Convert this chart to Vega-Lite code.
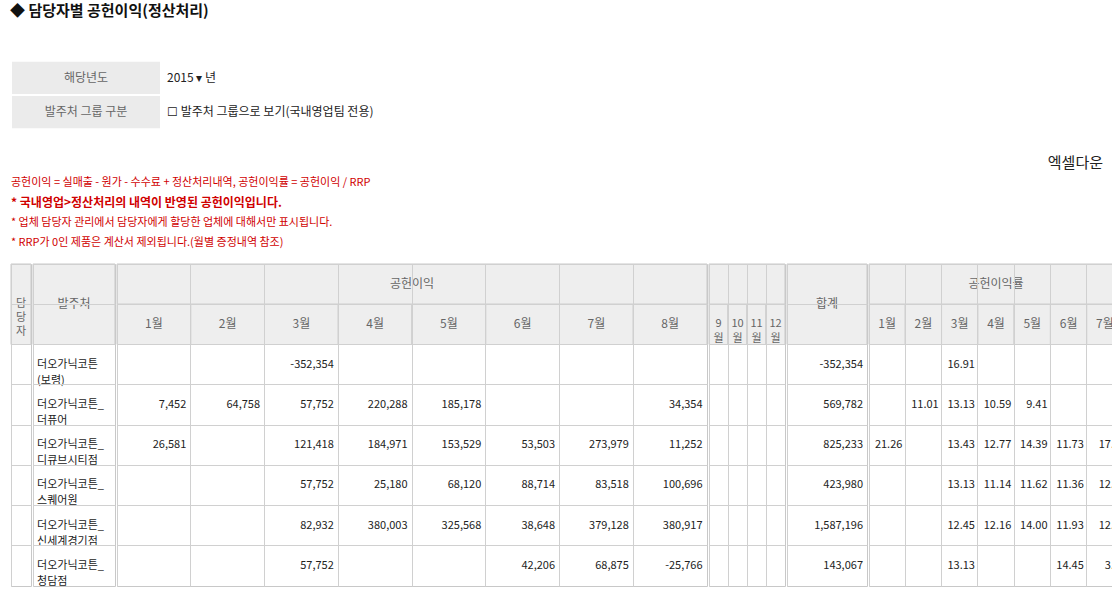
{
"$schema":"https://vega.github.io/schema/vega-lite/v6.json",
"padding":{"left":10,"top":4,"right":0,"bottom":0},
"background":"#ffffff",
"title":{"text":"◆ 담당자별 공헌이익(정산처리)","anchor":"start","fontSize":15,"fontWeight":"bold","color":"#111","offset":28},
"config":{"font":"Noto Sans CJK KR","view":{"stroke":"#c8c8c8"},"axis":{"grid":true,"labels":false,"ticks":false,"domain":false,"gridColor":"#d0d0d0","bandPosition":0}},
"datasets":{
"hrect":[
{"g":"A","c1":"담","c2":"담","r1":"h1","r2":"h2"},
{"g":"B","c1":"발","c2":"발","r1":"h1","r2":"h2"},
{"g":"C","c1":"M1","c2":"M8","r1":"h1","r2":"h1"},
{"g":"C","c1":"M1","c2":"M1","r1":"h2","r2":"h2"},{"g":"C","c1":"M2","c2":"M2","r1":"h2","r2":"h2"},{"g":"C","c1":"M3","c2":"M3","r1":"h2","r2":"h2"},{"g":"C","c1":"M4","c2":"M4","r1":"h2","r2":"h2"},{"g":"C","c1":"M5","c2":"M5","r1":"h2","r2":"h2"},{"g":"C","c1":"M6","c2":"M6","r1":"h2","r2":"h2"},{"g":"C","c1":"M7","c2":"M7","r1":"h2","r2":"h2"},{"g":"C","c1":"M8","c2":"M8","r1":"h2","r2":"h2"},
{"g":"D","c1":"M9","c2":"M12","r1":"h1","r2":"h1"},
{"g":"D","c1":"M9","c2":"M9","r1":"h2","r2":"h2"},{"g":"D","c1":"M10","c2":"M10","r1":"h2","r2":"h2"},{"g":"D","c1":"M11","c2":"M11","r1":"h2","r2":"h2"},{"g":"D","c1":"M12","c2":"M12","r1":"h2","r2":"h2"},
{"g":"E","c1":"H","c2":"H","r1":"h1","r2":"h2"},
{"g":"F","c1":"R1","c2":"R7","r1":"h1","r2":"h1"},
{"g":"F","c1":"R1","c2":"R1","r1":"h2","r2":"h2"},{"g":"F","c1":"R2","c2":"R2","r1":"h2","r2":"h2"},{"g":"F","c1":"R3","c2":"R3","r1":"h2","r2":"h2"},{"g":"F","c1":"R4","c2":"R4","r1":"h2","r2":"h2"},{"g":"F","c1":"R5","c2":"R5","r1":"h2","r2":"h2"},{"g":"F","c1":"R6","c2":"R6","r1":"h2","r2":"h2"},{"g":"F","c1":"R7","c2":"R7","r1":"h2","r2":"h2"}
],
"htext":[
{"g":"A","c":"담","r":"h1","t":"담\n당\n자","m":"v"},
{"g":"B","c":"발","r":"h1","t":"발주처","m":"v"},
{"g":"C","c":"M4","r":"h1","t":"공헌이익","m":"s"},
{"g":"C","c":"M1","r":"h2","t":"1월","m":"n"},{"g":"C","c":"M2","r":"h2","t":"2월","m":"n"},{"g":"C","c":"M3","r":"h2","t":"3월","m":"n"},{"g":"C","c":"M4","r":"h2","t":"4월","m":"n"},{"g":"C","c":"M5","r":"h2","t":"5월","m":"n"},{"g":"C","c":"M6","r":"h2","t":"6월","m":"n"},{"g":"C","c":"M7","r":"h2","t":"7월","m":"n"},{"g":"C","c":"M8","r":"h2","t":"8월","m":"n"},
{"g":"D","c":"M9","r":"h2","t":"9\n월","m":"n"},{"g":"D","c":"M10","r":"h2","t":"10\n월","m":"n"},{"g":"D","c":"M11","r":"h2","t":"11\n월","m":"n"},{"g":"D","c":"M12","r":"h2","t":"12\n월","m":"n"},
{"g":"E","c":"H","r":"h1","t":"합계","m":"v"},
{"g":"F","c":"R4","r":"h1","t":"공헌이익률","m":"n"},
{"g":"F","c":"R1","r":"h2","t":"1월","m":"n"},{"g":"F","c":"R2","r":"h2","t":"2월","m":"n"},{"g":"F","c":"R3","r":"h2","t":"3월","m":"n"},{"g":"F","c":"R4","r":"h2","t":"4월","m":"n"},{"g":"F","c":"R5","r":"h2","t":"5월","m":"n"},{"g":"F","c":"R6","r":"h2","t":"6월","m":"n"},{"g":"F","c":"R7","r":"h2","t":"7월","m":"n"}
],
"cells":[
{"g":"B","r":"d1","c":"발","v":"더오가닉코튼\n(보령)"},
{"g":"B","r":"d2","c":"발","v":"더오가닉코튼_\n더퓨어"},
{"g":"B","r":"d3","c":"발","v":"더오가닉코튼_\n디큐브시티점"},
{"g":"B","r":"d4","c":"발","v":"더오가닉코튼_\n스퀘어원"},
{"g":"B","r":"d5","c":"발","v":"더오가닉코튼_\n신세계경기점"},
{"g":"B","r":"d6","c":"발","v":"더오가닉코튼_\n청담점"},
{"g":"C","r":"d1","c":"M3","v":"-352,354"},{"g":"E","r":"d1","c":"H","v":"-352,354"},{"g":"F","r":"d1","c":"R3","v":"16.91"},
{"g":"C","r":"d2","c":"M1","v":"7,452"},{"g":"C","r":"d2","c":"M2","v":"64,758"},{"g":"C","r":"d2","c":"M3","v":"57,752"},{"g":"C","r":"d2","c":"M4","v":"220,288"},{"g":"C","r":"d2","c":"M5","v":"185,178"},{"g":"C","r":"d2","c":"M8","v":"34,354"},{"g":"E","r":"d2","c":"H","v":"569,782"},
{"g":"F","r":"d2","c":"R2","v":"11.01"},{"g":"F","r":"d2","c":"R3","v":"13.13"},{"g":"F","r":"d2","c":"R4","v":"10.59"},{"g":"F","r":"d2","c":"R5","v":"9.41"},
{"g":"C","r":"d3","c":"M1","v":"26,581"},{"g":"C","r":"d3","c":"M3","v":"121,418"},{"g":"C","r":"d3","c":"M4","v":"184,971"},{"g":"C","r":"d3","c":"M5","v":"153,529"},{"g":"C","r":"d3","c":"M6","v":"53,503"},{"g":"C","r":"d3","c":"M7","v":"273,979"},{"g":"C","r":"d3","c":"M8","v":"11,252"},{"g":"E","r":"d3","c":"H","v":"825,233"},
{"g":"F","r":"d3","c":"R1","v":"21.26"},{"g":"F","r":"d3","c":"R3","v":"13.43"},{"g":"F","r":"d3","c":"R4","v":"12.77"},{"g":"F","r":"d3","c":"R5","v":"14.39"},{"g":"F","r":"d3","c":"R6","v":"11.73"},{"g":"F","r":"d3","c":"R7","v":"17.6"},
{"g":"C","r":"d4","c":"M3","v":"57,752"},{"g":"C","r":"d4","c":"M4","v":"25,180"},{"g":"C","r":"d4","c":"M5","v":"68,120"},{"g":"C","r":"d4","c":"M6","v":"88,714"},{"g":"C","r":"d4","c":"M7","v":"83,518"},{"g":"C","r":"d4","c":"M8","v":"100,696"},{"g":"E","r":"d4","c":"H","v":"423,980"},
{"g":"F","r":"d4","c":"R3","v":"13.13"},{"g":"F","r":"d4","c":"R4","v":"11.14"},{"g":"F","r":"d4","c":"R5","v":"11.62"},{"g":"F","r":"d4","c":"R6","v":"11.36"},{"g":"F","r":"d4","c":"R7","v":"12.7"},
{"g":"C","r":"d5","c":"M3","v":"82,932"},{"g":"C","r":"d5","c":"M4","v":"380,003"},{"g":"C","r":"d5","c":"M5","v":"325,568"},{"g":"C","r":"d5","c":"M6","v":"38,648"},{"g":"C","r":"d5","c":"M7","v":"379,128"},{"g":"C","r":"d5","c":"M8","v":"380,917"},{"g":"E","r":"d5","c":"H","v":"1,587,196"},
{"g":"F","r":"d5","c":"R3","v":"12.45"},{"g":"F","r":"d5","c":"R4","v":"12.16"},{"g":"F","r":"d5","c":"R5","v":"14.00"},{"g":"F","r":"d5","c":"R6","v":"11.93"},{"g":"F","r":"d5","c":"R7","v":"12.6"},
{"g":"C","r":"d6","c":"M3","v":"57,752"},{"g":"C","r":"d6","c":"M6","v":"42,206"},{"g":"C","r":"d6","c":"M7","v":"68,875"},{"g":"C","r":"d6","c":"M8","v":"-25,766"},{"g":"E","r":"d6","c":"H","v":"143,067"},
{"g":"F","r":"d6","c":"R3","v":"13.13"},{"g":"F","r":"d6","c":"R6","v":"14.45"},{"g":"F","r":"d6","c":"R7","v":"3.5"}
],
"form":[{"k":"a","t":"해당년도","v":"2015 ▾ 년"},{"k":"b","t":"발주처 그룹 구분","v":"☐  발주처 그룹으로 보기(국내영업팀 전용)"}],
"notes":[
{"l":"l0","t":"엑셀다운","s":"r"},
{"l":"l1","t":"공헌이익 = 실매출 - 원가 - 수수료 + 정산처리내역, 공헌이익률 = 공헌이익 / RRP","s":"n"},
{"l":"l2","t":"* 국내영업>정산처리의 내역이 반영된 공헌이익입니다.","s":"b"},
{"l":"l3","t":"* 업체 담당자 관리에서 담당자에게 할당한 업체에 대해서만 표시됩니다.","s":"n"},
{"l":"l4","t":"* RRP가 0인 제품은 계산서 제외됩니다.(월별 증정내역 참조)","s":"n"}
]
},
"vconcat":[
{"hconcat":[
 {"width":150,"height":96,"view":{"stroke":null},"data":{"name":"form"},"layer":[
  {"mark":{"type":"rect","fill":"#ebebeb","stroke":"#ffffff","strokeWidth":2},"encoding":{"y":{"field":"k","type":"nominal","axis":null,"scale":{"domain":["a","b"],"paddingInner":0,"paddingOuter":0.4}}}},
  {"mark":{"type":"text","fontSize":12,"color":"#666"},"encoding":{"y":{"field":"k","type":"nominal","axis":null,"scale":{"domain":["a","b"],"paddingInner":0,"paddingOuter":0.4}},"x":{"datum":0.5,"type":"quantitative","scale":{"domain":[0,1]},"axis":null},"text":{"field":"t"}}},
  {"mark":{"type":"text","fontSize":12,"align":"left","color":"#222"},"encoding":{"y":{"field":"k","type":"nominal","axis":null,"scale":{"domain":["a","b"],"paddingInner":0,"paddingOuter":0.4}},"x":{"datum":1.04,"type":"quantitative","scale":{"domain":[0,1]},"axis":null},"text":{"field":"v"}}}
 ]},
 {"width":850,"height":96,"view":{"stroke":null},"data":{"values":[{"e":""}]},"mark":{"type":"text"},"encoding":{"text":{"field":"e"}}},
 {"width":50,"height":96,"view":{"stroke":null},"data":{"values":[{"b":"b","t":"검색"}]},"layer":[
  {"mark":{"type":"rect","fill":"#c4ff3f","stroke":"#333"},"encoding":{"y":{"field":"b","type":"nominal","axis":null,"scale":{"paddingInner":0,"paddingOuter":0.5}}}},
  {"mark":{"type":"text","fontSize":12,"color":"#222"},"encoding":{"y":{"field":"b","type":"nominal","axis":null,"scale":{"paddingInner":0,"paddingOuter":0.5}},"x":{"datum":0.5,"type":"quantitative","scale":{"domain":[0,1]},"axis":null},"text":{"field":"t"}}}
 ]}
],"spacing":8},
{"width":1092,"height":100,"view":{"stroke":null},"data":{"name":"notes"},"layer":[
 {"transform":[{"filter":"datum.s=='n'"}],"mark":{"type":"text","align":"left","fontSize":11,"color":"#d00000"},"encoding":{"y":{"field":"l","type":"nominal","axis":null,"scale":{"domain":["l0","l1","l2","l3","l4"]}},"x":{"datum":0,"type":"quantitative","scale":{"domain":[0,1]},"axis":null},"text":{"field":"t"}}},
 {"transform":[{"filter":"datum.s=='b'"}],"mark":{"type":"text","align":"left","fontSize":12,"fontWeight":"bold","color":"#d00000"},"encoding":{"y":{"field":"l","type":"nominal","axis":null,"scale":{"domain":["l0","l1","l2","l3","l4"]}},"x":{"datum":0,"type":"quantitative","scale":{"domain":[0,1]},"axis":null},"text":{"field":"t"}}},
 {"transform":[{"filter":"datum.s=='r'"}],"mark":{"type":"text","align":"right","fontSize":15,"color":"#222"},"encoding":{"y":{"field":"l","type":"nominal","axis":null,"scale":{"domain":["l0","l1","l2","l3","l4"]}},"x":{"datum":1,"type":"quantitative","scale":{"domain":[0,1]},"axis":null},"text":{"field":"t"}}}
]},
{"spacing":0,"hconcat":[
 {"width":20,"height":322,"layer":[
  {"data":{"name":"hrect"},"transform":[{"filter":"datum.g=='A'"}],"mark":{"type":"rect","fill":"#eeeeee","stroke":"#c8c8c8"},"encoding":{"x":{"field":"c1","type":"nominal","bandPosition":0,"title":null,"scale":{"domain":["담"],"paddingInner":0,"paddingOuter":0}},"x2":{"field":"c2","bandPosition":1},"y":{"field":"r1","type":"nominal","bandPosition":0,"title":null,"scale":{"domain":["h1","h2","d1","d2","d3","d4","d5","d6"],"paddingInner":0,"paddingOuter":0}},"y2":{"field":"r2","bandPosition":1}}},
  {"data":{"name":"htext"},"transform":[{"filter":"datum.g=='A'"}],"mark":{"type":"text","lineBreak":"\n","lineHeight":14,"fontSize":11,"color":"#666"},"encoding":{"x":{"field":"c","type":"nominal","bandPosition":0.5,"title":null,"scale":{"domain":["담"],"paddingInner":0,"paddingOuter":0}},"y":{"field":"r","type":"nominal","bandPosition":1,"title":null,"scale":{"domain":["h1","h2","d1","d2","d3","d4","d5","d6"],"paddingInner":0,"paddingOuter":0}},"text":{"field":"t"}}}
 ]},
 {"width":82,"height":322,"layer":[
  {"data":{"name":"hrect"},"transform":[{"filter":"datum.g=='B'"}],"mark":{"type":"rect","fill":"#eeeeee","stroke":"#c8c8c8"},"encoding":{"x":{"field":"c1","type":"nominal","bandPosition":0,"title":null,"scale":{"domain":["발"],"paddingInner":0,"paddingOuter":0}},"x2":{"field":"c2","bandPosition":1},"y":{"field":"r1","type":"nominal","bandPosition":0,"title":null,"scale":{"domain":["h1","h2","d1","d2","d3","d4","d5","d6"],"paddingInner":0,"paddingOuter":0}},"y2":{"field":"r2","bandPosition":1}}},
  {"data":{"name":"htext"},"transform":[{"filter":"datum.g=='B'"}],"mark":{"type":"text","fontSize":12,"color":"#666"},"encoding":{"x":{"field":"c","type":"nominal","bandPosition":0.5,"title":null,"scale":{"domain":["발"],"paddingInner":0,"paddingOuter":0}},"y":{"field":"r","type":"nominal","bandPosition":1,"title":null,"scale":{"domain":["h1","h2","d1","d2","d3","d4","d5","d6"],"paddingInner":0,"paddingOuter":0}},"text":{"field":"t"}}},
  {"data":{"name":"cells"},"transform":[{"filter":"datum.g=='B'"}],"mark":{"type":"text","align":"left","lineBreak":"\n","lineHeight":16,"fontSize":11,"color":"#222"},"encoding":{"x":{"field":"c","type":"nominal","bandPosition":0.05,"title":null,"scale":{"domain":["발"],"paddingInner":0,"paddingOuter":0}},"y":{"field":"r","type":"nominal","bandPosition":0.5,"title":null,"scale":{"domain":["h1","h2","d1","d2","d3","d4","d5","d6"],"paddingInner":0,"paddingOuter":0}},"text":{"field":"v"}}}
 ]},
 {"width":590,"height":322,"layer":[
  {"data":{"name":"hrect"},"transform":[{"filter":"datum.g=='C'"}],"mark":{"type":"rect","fill":"#eeeeee","stroke":"#c8c8c8"},"encoding":{"x":{"field":"c1","type":"nominal","bandPosition":0,"title":null,"scale":{"domain":["M1","M2","M3","M4","M5","M6","M7","M8"],"paddingInner":0,"paddingOuter":0}},"x2":{"field":"c2","bandPosition":1},"y":{"field":"r1","type":"nominal","bandPosition":0,"title":null,"scale":{"domain":["h1","h2","d1","d2","d3","d4","d5","d6"],"paddingInner":0,"paddingOuter":0}},"y2":{"field":"r2","bandPosition":1}}},
  {"data":{"name":"htext"},"transform":[{"filter":"datum.g=='C' && datum.m=='n'"}],"mark":{"type":"text","fontSize":12,"color":"#666"},"encoding":{"x":{"field":"c","type":"nominal","bandPosition":0.5,"title":null,"scale":{"domain":["M1","M2","M3","M4","M5","M6","M7","M8"],"paddingInner":0,"paddingOuter":0}},"y":{"field":"r","type":"nominal","bandPosition":0.5,"title":null,"scale":{"domain":["h1","h2","d1","d2","d3","d4","d5","d6"],"paddingInner":0,"paddingOuter":0}},"text":{"field":"t"}}},
  {"data":{"name":"htext"},"transform":[{"filter":"datum.g=='C' && datum.m=='s'"}],"mark":{"type":"text","fontSize":12,"color":"#666"},"encoding":{"x":{"field":"c","type":"nominal","bandPosition":1,"title":null,"scale":{"domain":["M1","M2","M3","M4","M5","M6","M7","M8"],"paddingInner":0,"paddingOuter":0}},"y":{"field":"r","type":"nominal","bandPosition":0.5,"title":null,"scale":{"domain":["h1","h2","d1","d2","d3","d4","d5","d6"],"paddingInner":0,"paddingOuter":0}},"text":{"field":"t"}}},
  {"data":{"name":"cells"},"transform":[{"filter":"datum.g=='C'"}],"mark":{"type":"text","align":"right","fontSize":11,"color":"#222"},"encoding":{"x":{"field":"c","type":"nominal","bandPosition":0.94,"title":null,"scale":{"domain":["M1","M2","M3","M4","M5","M6","M7","M8"],"paddingInner":0,"paddingOuter":0}},"y":{"field":"r","type":"nominal","bandPosition":0.5,"title":null,"scale":{"domain":["h1","h2","d1","d2","d3","d4","d5","d6"],"paddingInner":0,"paddingOuter":0}},"text":{"field":"v"}}}
 ]},
 {"width":76,"height":322,"layer":[
  {"data":{"name":"hrect"},"transform":[{"filter":"datum.g=='D'"}],"mark":{"type":"rect","fill":"#eeeeee","stroke":"#c8c8c8"},"encoding":{"x":{"field":"c1","type":"nominal","bandPosition":0,"title":null,"scale":{"domain":["M9","M10","M11","M12"],"paddingInner":0,"paddingOuter":0}},"x2":{"field":"c2","bandPosition":1},"y":{"field":"r1","type":"nominal","bandPosition":0,"title":null,"scale":{"domain":["h1","h2","d1","d2","d3","d4","d5","d6"],"paddingInner":0,"paddingOuter":0}},"y2":{"field":"r2","bandPosition":1}}},
  {"data":{"name":"htext"},"transform":[{"filter":"datum.g=='D'"}],"mark":{"type":"text","lineBreak":"\n","lineHeight":15,"fontSize":11,"color":"#666"},"encoding":{"x":{"field":"c","type":"nominal","bandPosition":0.5,"title":null,"scale":{"domain":["M9","M10","M11","M12"],"paddingInner":0,"paddingOuter":0}},"y":{"field":"r","type":"nominal","bandPosition":0.5,"title":null,"scale":{"domain":["h1","h2","d1","d2","d3","d4","d5","d6"],"paddingInner":0,"paddingOuter":0}},"text":{"field":"t"}}}
 ]},
 {"width":80,"height":322,"layer":[
  {"data":{"name":"hrect"},"transform":[{"filter":"datum.g=='E'"}],"mark":{"type":"rect","fill":"#eeeeee","stroke":"#c8c8c8"},"encoding":{"x":{"field":"c1","type":"nominal","bandPosition":0,"title":null,"scale":{"domain":["H"],"paddingInner":0,"paddingOuter":0}},"x2":{"field":"c2","bandPosition":1},"y":{"field":"r1","type":"nominal","bandPosition":0,"title":null,"scale":{"domain":["h1","h2","d1","d2","d3","d4","d5","d6"],"paddingInner":0,"paddingOuter":0}},"y2":{"field":"r2","bandPosition":1}}},
  {"data":{"name":"htext"},"transform":[{"filter":"datum.g=='E'"}],"mark":{"type":"text","fontSize":12,"color":"#666"},"encoding":{"x":{"field":"c","type":"nominal","bandPosition":0.5,"title":null,"scale":{"domain":["H"],"paddingInner":0,"paddingOuter":0}},"y":{"field":"r","type":"nominal","bandPosition":1,"title":null,"scale":{"domain":["h1","h2","d1","d2","d3","d4","d5","d6"],"paddingInner":0,"paddingOuter":0}},"text":{"field":"t"}}},
  {"data":{"name":"cells"},"transform":[{"filter":"datum.g=='E'"}],"mark":{"type":"text","align":"right","fontSize":11,"color":"#222"},"encoding":{"x":{"field":"c","type":"nominal","bandPosition":0.95,"title":null,"scale":{"domain":["H"],"paddingInner":0,"paddingOuter":0}},"y":{"field":"r","type":"nominal","bandPosition":0.5,"title":null,"scale":{"domain":["h1","h2","d1","d2","d3","d4","d5","d6"],"paddingInner":0,"paddingOuter":0}},"text":{"field":"v"}}}
 ]},
 {"width":254,"height":322,"layer":[
  {"data":{"name":"hrect"},"transform":[{"filter":"datum.g=='F'"}],"mark":{"type":"rect","fill":"#eeeeee","stroke":"#c8c8c8"},"encoding":{"x":{"field":"c1","type":"nominal","bandPosition":0,"title":null,"scale":{"domain":["R1","R2","R3","R4","R5","R6","R7"],"paddingInner":0,"paddingOuter":0}},"x2":{"field":"c2","bandPosition":1},"y":{"field":"r1","type":"nominal","bandPosition":0,"title":null,"scale":{"domain":["h1","h2","d1","d2","d3","d4","d5","d6"],"paddingInner":0,"paddingOuter":0}},"y2":{"field":"r2","bandPosition":1}}},
  {"data":{"name":"htext"},"transform":[{"filter":"datum.g=='F'"}],"mark":{"type":"text","fontSize":12,"color":"#666"},"encoding":{"x":{"field":"c","type":"nominal","bandPosition":0.5,"title":null,"scale":{"domain":["R1","R2","R3","R4","R5","R6","R7"],"paddingInner":0,"paddingOuter":0}},"y":{"field":"r","type":"nominal","bandPosition":0.5,"title":null,"scale":{"domain":["h1","h2","d1","d2","d3","d4","d5","d6"],"paddingInner":0,"paddingOuter":0}},"text":{"field":"t"}}},
  {"data":{"name":"cells"},"transform":[{"filter":"datum.g=='F'"}],"mark":{"type":"text","align":"right","fontSize":11,"color":"#222"},"encoding":{"x":{"field":"c","type":"nominal","bandPosition":0.92,"title":null,"scale":{"domain":["R1","R2","R3","R4","R5","R6","R7"],"paddingInner":0,"paddingOuter":0}},"y":{"field":"r","type":"nominal","bandPosition":0.5,"title":null,"scale":{"domain":["h1","h2","d1","d2","d3","d4","d5","d6"],"paddingInner":0,"paddingOuter":0}},"text":{"field":"v"}}}
 ]}
]}
],
"spacing":10
}
